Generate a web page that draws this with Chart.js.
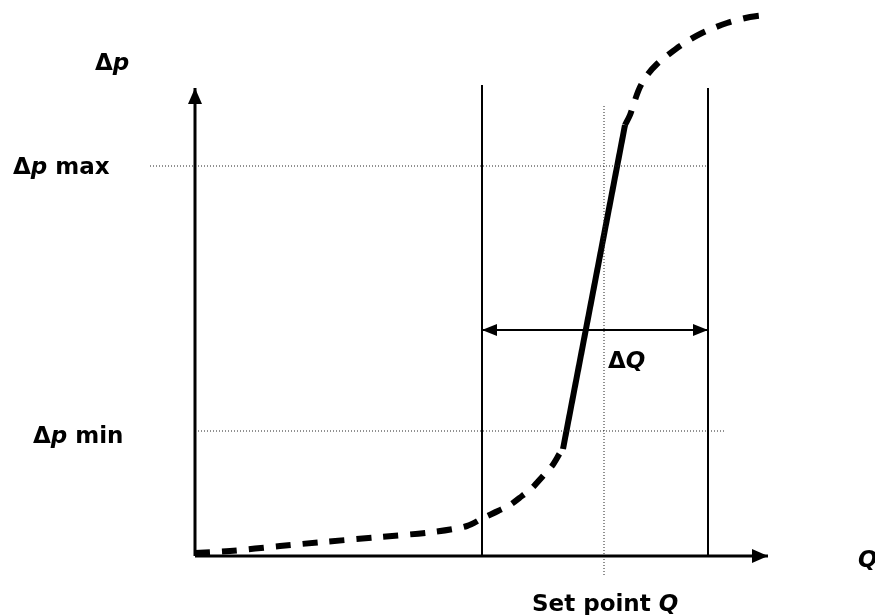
<!DOCTYPE html>
<html>
<head>
<meta charset="utf-8">
<script src="https://cdn.jsdelivr.net/npm/chart.js@4.4.1/dist/chart.umd.min.js"></script>
<style>
  html, body { margin: 0; padding: 0; background: #fff; }
  #wrap { width: 875px; height: 615px; position: relative; }
</style>
</head>
<body>
<div id="wrap"><canvas id="curve"></canvas></div>
<script>
// pump curve, Q and dp in arbitrary units (origin = 0,0)
var lowerQ  = [0, 3.5, 8.5, 12.8, 18.5, 23.8, 27.2, 28.8, 30.3, 31.5, 32.7, 33.7, 34.8, 35.7, 36.5, 36.8];
var lowerDp = [0.3, 0.5, 1.0, 1.4, 1.9, 2.4, 3.0, 3.8, 4.5, 5.1, 6.0, 6.8, 8.0, 9.0, 10.3, 10.7];
var rampQ   = [36.8, 43.0];
var rampDp  = [10.7, 43.1];
var upperQ  = [43.0, 43.5, 44.0, 44.5, 45.3, 46.2, 47.3, 48.5, 50.5, 53.2, 55.5, 57.0];
var upperDp = [43.1, 44.1, 45.6, 46.9, 48.2, 49.2, 50.1, 51.0, 52.2, 53.3, 53.9, 54.1];

var bandQ = [28.7, 51.3];     // the two vertical limits
var bandTop = [47.1, 46.8];
var setPointQ = 40.9;
var dpMax = 39.0;
var dpMin = 12.5;
var deltaQLevel = 22.6;
var axisEnd = {q: 57.3, dp: 46.8};

// labels: [q, dp, runs]  runs = [text, italic]
var labels = [
  [-10.0, 48.6, [["\u0394", false], ["p", true]]],
  [-18.2, 38.2, [["\u0394", false], ["p", true], [" max", false]]],
  [-16.2, 11.3, [["\u0394", false], ["p", true], [" min", false]]],
  [41.3, 18.8, [["\u0394", false], ["Q", true]]],
  [66.3, -1.1, [["Q", true]]],
  [33.7, -5.5, [["Set point ", false], ["Q", true]]]
];

function pts(xs, ys) {
  var out = [];
  for (var i = 0; i < xs.length; i++) { out.push({x: xs[i], y: ys[i]}); }
  return out;
}

var arrowPlugin = {
  id: 'arrows',
  afterDatasetsDraw: function(chart) {
    var ctx = chart.ctx;
    chart.data.datasets.forEach(function(ds, i) {
      if (!ds.arrowEnd && !ds.arrowStart) return;
      var p = chart.getDatasetMeta(i).data;
      var n = p.length;
      function head(tip, from, len, half) {
        var dx = tip.x - from.x, dy = tip.y - from.y;
        var d = Math.sqrt(dx * dx + dy * dy);
        var ux = dx / d, uy = dy / d;
        ctx.beginPath();
        ctx.moveTo(tip.x, tip.y);
        ctx.lineTo(tip.x - ux * len - uy * half, tip.y - uy * len + ux * half);
        ctx.lineTo(tip.x - ux * len + uy * half, tip.y - uy * len - ux * half);
        ctx.closePath();
        ctx.fill();
      }
      ctx.save();
      ctx.fillStyle = '#000';
      if (ds.arrowEnd) head(p[n - 1], p[n - 2], ds.arrowLen, ds.arrowHalf);
      if (ds.arrowStart) head(p[0], p[1], ds.arrowLen, ds.arrowHalf);
      ctx.restore();
    });
  }
};

var labelPlugin = {
  id: 'labels',
  afterDraw: function(chart) {
    var ctx = chart.ctx;
    var xs = chart.scales.x, ys = chart.scales.y;
    ctx.save();
    ctx.fillStyle = '#000';
    ctx.textBaseline = 'alphabetic';
    labels.forEach(function(l) {
      var x = xs.getPixelForValue(l[0]);
      var y = ys.getPixelForValue(l[1]);
      l[2].forEach(function(run) {
        ctx.font = (run[1] ? 'italic ' : '') + 'bold 23px "DejaVu Sans"';
        ctx.fillText(run[0], x, y);
        x += ctx.measureText(run[0]).width;
      });
    });
    ctx.restore();
  }
};

window.onload = function() {
  var ctx = document.getElementById('curve').getContext('2d');
  var dotted = {borderColor: '#222', borderWidth: 1, borderDash: [1, 2]};

  var chart = new Chart(ctx, {
    type: 'scatter',
    data: {
      datasets: [
        // axes
        {data: [{x: 0, y: 0}, {x: 0, y: axisEnd.dp}], borderColor: '#000', borderWidth: 3,
         arrowEnd: true, arrowLen: 16, arrowHalf: 7},
        {data: [{x: 0, y: 0}, {x: axisEnd.q, y: 0}], borderColor: '#000', borderWidth: 3,
         arrowEnd: true, arrowLen: 16, arrowHalf: 7},
        // vertical limits
        {data: [{x: bandQ[0], y: 0}, {x: bandQ[0], y: bandTop[0]}], borderColor: '#000', borderWidth: 2},
        {data: [{x: bandQ[1], y: 0}, {x: bandQ[1], y: bandTop[1]}], borderColor: '#000', borderWidth: 2},
        // dotted guides
        Object.assign({data: [{x: setPointQ, y: -1.9}, {x: setPointQ, y: 45.1}]}, dotted),
        Object.assign({data: [{x: -4.5, y: dpMax}, {x: bandQ[1], y: dpMax}]}, dotted),
        Object.assign({data: [{x: 0, y: dpMin}, {x: 53.0, y: dpMin}]}, dotted),
        // delta Q arrow
        {data: [{x: bandQ[0], y: deltaQLevel}, {x: bandQ[1], y: deltaQLevel}], borderColor: '#000', borderWidth: 2,
         arrowEnd: true, arrowStart: true, arrowLen: 15, arrowHalf: 6},
        // curve
        {data: pts(lowerQ, lowerDp), borderColor: '#000', borderWidth: 6, borderDash: [15, 12], tension: 0.3},
        {data: pts(rampQ, rampDp), borderColor: '#000', borderWidth: 6},
        {data: pts(upperQ, upperDp), borderColor: '#000', borderWidth: 6, borderDash: [16, 12], tension: 0.3}
      ]
    },
    options: {
      responsive: true,
      maintainAspectRatio: false,
      animation: false,
      showLine: true,
      layout: {padding: 0},
      elements: {point: {radius: 0, hoverRadius: 0}, line: {borderCapStyle: 'butt', fill: false}},
      plugins: {legend: {display: false}, tooltip: {enabled: false}},
      scales: {
        x: {type: 'linear', display: false, min: -19.5, max: 68.0},
        y: {type: 'linear', display: false, min: -5.9, max: 55.6}
      }
    },
    plugins: [arrowPlugin, labelPlugin]
  });
};
</script>
</body>
</html>
